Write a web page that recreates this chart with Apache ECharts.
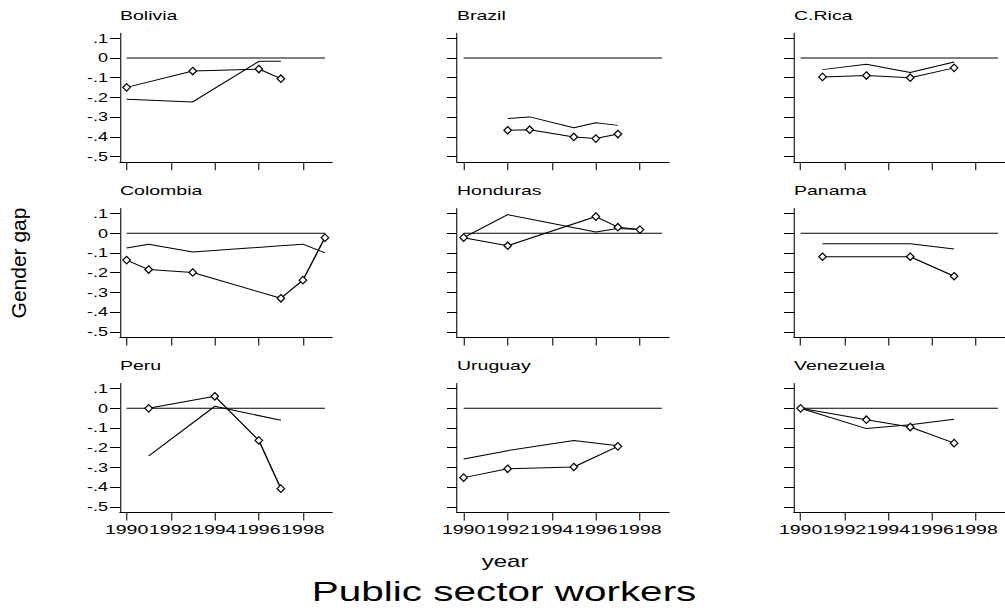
<!DOCTYPE html>
<html><head><meta charset="utf-8">
<script src="https://cdn.jsdelivr.net/npm/echarts@6/dist/echarts.min.js"></script>
<style>
html,body{margin:0;padding:0;background:#fff;overflow:hidden}
#c{width:670px;height:614px;transform:scaleX(1.5);transform-origin:0 0;}
</style></head><body><div id="c"></div>
<script>
// ---- data ----
const countries = ['Bolivia','Brazil','C.Rica','Colombia','Honduras','Panama','Peru','Uruguay','Venezuela'];
// series with diamond markers
const yearsA = [
  [1990,1993,1996,1997],
  [1992,1993,1995,1996,1997],
  [1991,1993,1995,1997],
  [1990,1991,1993,1997,1998,1999],
  [1990,1992,1996,1997,1998],
  [1991,1995,1997],
  [1991,1994,1996,1997],
  [1990,1992,1995,1997],
  [1990,1993,1995,1997]
];
const valuesA = [
  [-0.149,-0.066,-0.056,-0.105],
  [-0.367,-0.364,-0.401,-0.409,-0.386],
  [-0.096,-0.089,-0.100,-0.050],
  [-0.136,-0.184,-0.199,-0.330,-0.238,-0.022],
  [-0.022,-0.063,0.085,0.031,0.019],
  [-0.119,-0.119,-0.218],
  [0.000,0.061,-0.163,-0.408],
  [-0.352,-0.307,-0.298,-0.193],
  [0.000,-0.058,-0.095,-0.177]
];
// plain line series
const yearsB = [
  [1990,1993,1996,1997],
  [1992,1993,1995,1996,1997],
  [1991,1993,1995,1997],
  [1990,1991,1993,1997,1998,1999],
  [1990,1992,1996,1997,1998],
  [1991,1995,1997],
  [1991,1994,1997],
  [1990,1992,1995,1997],
  [1990,1993,1995,1997]
];
const valuesB = [
  [-0.209,-0.223,-0.017,-0.017],
  [-0.307,-0.299,-0.354,-0.329,-0.342],
  [-0.059,-0.032,-0.074,-0.020],
  [-0.075,-0.055,-0.095,-0.063,-0.055,-0.099],
  [-0.022,0.095,0.007,0.024,0.019],
  [-0.053,-0.053,-0.080],
  [-0.242,0.010,-0.061],
  [-0.257,-0.215,-0.163,-0.190],
  [0.000,-0.103,-0.083,-0.055]
];
const refYears = [1990,1999];
const refValues = [0,0];
const xTicks = [1990,1992,1994,1996,1998];
const yTicks = [-0.5,-0.4,-0.3,-0.2,-0.1,0,0.1];
const yTitle = 'Gender gap';
const xTitle = 'year';
const mainTitle = 'Public sector workers';

// ---- layout (internal coords; page is stretched by 1.5 horizontally) ----
const SX = 1.5;
const FONT = '"Liberation Sans", Arial, sans-serif';
const colLeft = [80, 304.67, 529.33];
const rowTop = [33, 208.3, 383.3];
const gw = 141.33, gh = 129.2;

const zip = (xs, ys) => xs.map((x, k) => [x, ys[k]]);
const fmtY = v => { const r = Math.round(v * 10); return r === 0 ? '0' : (r < 0 ? '-' : '') + '.' + Math.abs(r); };

const grid = [], xAxis = [], yAxis = [], series = [], title = [];
countries.forEach((name, i) => {
  const r = Math.floor(i / 3), c = i % 3;
  grid.push({left: colLeft[c], top: rowTop[r], width: gw, height: gh});
  xAxis.push({
    type: 'value', gridIndex: i, min: 1989.7, max: 1999.32,
    axisLine: {show: true, onZero: false, lineStyle: {color: '#000', width: 1}},
    axisTick: {show: true, length: 8, customValues: xTicks, lineStyle: {color: '#000', width: 0.7}},
    axisLabel: {show: r === 2, customValues: xTicks, margin: 11, fontSize: 13, color: '#000', fontFamily: FONT,
                hideOverlap: false, showMinLabel: true, showMaxLabel: true, formatter: v => String(v)},
    splitLine: {show: false}
  });
  yAxis.push({
    type: 'value', gridIndex: i, min: -0.529, max: 0.127,
    axisLine: {show: true, onZero: false, lineStyle: {color: '#000', width: 0.7}},
    axisTick: {show: true, length: 6.67, customValues: yTicks, lineStyle: {color: '#000', width: 1}},
    axisLabel: {show: c === 0, customValues: yTicks, margin: 8, fontSize: 12, color: '#000', fontFamily: FONT,
                showMinLabel: true, showMaxLabel: true, formatter: fmtY},
    splitLine: {show: false}
  });
  title.push({
    text: name, left: colLeft[c], top: rowTop[r] - 24, padding: 0,
    textStyle: {fontSize: 13, fontWeight: 'normal', color: '#000', fontFamily: FONT}
  });
  series.push({
    type: 'line', xAxisIndex: i, yAxisIndex: i, data: zip(refYears, refValues),
    symbol: 'none', lineStyle: {color: '#000', width: 1}, silent: true, z: 1
  });
  series.push({
    type: 'line', xAxisIndex: i, yAxisIndex: i, data: zip(yearsB[i], valuesB[i]),
    symbol: 'none', lineStyle: {color: '#000', width: 1}, z: 2
  });
  series.push({
    type: 'line', xAxisIndex: i, yAxisIndex: i, data: zip(yearsA[i], valuesA[i]),
    symbol: 'diamond', symbolSize: [5, 7.5], showAllSymbol: true,
    lineStyle: {color: '#000', width: 1},
    itemStyle: {color: '#fff', borderColor: '#000', borderWidth: 1}, z: 3
  });
});

const chart = echarts.init(document.getElementById('c'), null, {renderer: 'svg'});
chart.setOption({
  animation: false,
  backgroundColor: '#fff',
  title: title,
  grid: grid, xAxis: xAxis, yAxis: yAxis, series: series,
  graphic: [
    {type: 'text', x: 12, y: 263, rotation: Math.PI / 2, scaleY: 1 / SX,
     style: {text: yTitle, fontSize: 21, fill: '#000', fontFamily: FONT, align: 'center', verticalAlign: 'middle'}},
    {type: 'text', x: 336.7, y: 562,
     style: {text: xTitle, fontSize: 16, fill: '#000', fontFamily: FONT, align: 'center', verticalAlign: 'middle'}},
    {type: 'text', x: 336, y: 592,
     style: {text: mainTitle, fontSize: 27, fill: '#000', fontFamily: FONT, align: 'center', verticalAlign: 'middle'}}
  ]
});
</script></body></html>
